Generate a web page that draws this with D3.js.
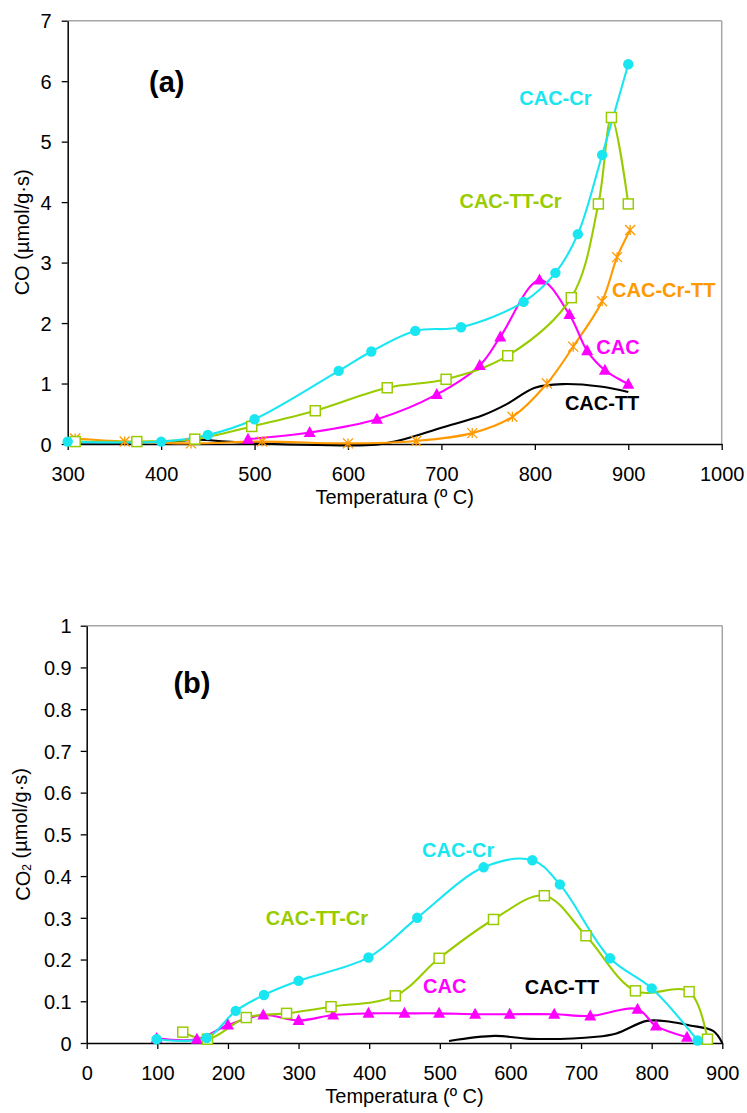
<!DOCTYPE html>
<html><head><meta charset="utf-8">
<script src="https://cdn.jsdelivr.net/npm/d3@7"></script>
<style>
body{margin:0;background:#fff}
text{font-family:"Liberation Sans",Arial,Helvetica,sans-serif}
</style>
</head><body>
<svg id="chart" width="747" height="1113"></svg>
<script>
// ---------- DATA ----------
// Panel (a): CO evolution
const xTicksA = [300,400,500,600,700,800,900,1000];
const yTicksA = [0,1,2,3,4,5,6,7];
const coCACCr   = [[300,0.04],[400,0.04],[450,0.15],[500,0.41],[590,1.21],[625,1.53],[672,1.87],[721,1.93],[788,2.35],[822,2.83],[846,3.47],[872,4.78],[900,6.28]];
const coCACTTCr = [[308,0.04],[374,0.04],[436,0.08],[497,0.29],[565,0.55],[642,0.93],[705,1.07],[771,1.46],[839,2.42],[868,3.97],[882,5.40],[900,3.97]];
const coCAC     = [[493,0.08],[559,0.19],[631,0.41],[695,0.82],[741,1.30],[763,1.77],[805,2.71],[837,2.14],[856,1.54],[875,1.22],[900,0.99]];
const coCACCrTT = [[308,0.09],[361,0.04],[432,0.01],[508,0.04],[600,0.01],[673,0.05],[733,0.18],[776,0.45],[813,1.00],[841,1.61],[872,2.36],[888,3.09],[902,3.54]];
const coCACTT   = [[300,0.03],[350,0.02],[400,0.03],[440,0.07],[470,0.04],[520,0.0],[580,-0.02],[630,-0.01],[660,0.08],[700,0.27],[745,0.48],[770,0.66],[800,0.93],[830,0.99],[870,0.95],[900,0.86]];
const labelsA = [["CAC-Cr",822,5.72],["CAC-TT-Cr",774,4.02],["CAC-Cr-TT",938,2.55],["CAC",889,1.61],["CAC-TT",872,0.67]];
const panelTagA = ["(a)",406,5.99];

// Panel (b): CO2 evolution
const xTicksB = [0,100,200,300,400,500,600,700,800,900];
const yTicksB = [0,0.1,0.2,0.3,0.4,0.5,0.6,0.7,0.8,0.9,1];
const co2CACCr   = [[99,0.009],[170,0.012],[211,0.077],[251,0.115],[300,0.149],[399,0.205],[468,0.300],[562,0.421],[631,0.438],[670,0.380],[741,0.203],[800,0.131],[865,0.006]];
const co2CACTTCr = [[136,0.026],[171,0.009],[226,0.061],[283,0.071],[346,0.087],[437,0.113],[499,0.203],[576,0.296],[648,0.353],[707,0.257],[777,0.125],[853,0.123],[879,0.009]];
const co2CAC     = [[99,0.011],[156,0.009],[200,0.043],[250,0.067],[300,0.054],[349,0.067],[399,0.071],[450,0.071],[499,0.071],[550,0.069],[599,0.069],[662,0.069],[713,0.065],[780,0.081],[806,0.041],[850,0.014]];
const co2CACTT   = [[513,0.005],[578,0.017],[628,0.010],[722,0.015],[750,0.023],[793,0.053],[826,0.051],[854,0.042],[887,0.029],[900,0.0]];
const labelsB = [["CAC-TT-Cr",326,0.299],["CAC-Cr",526,0.4625],["CAC",507,0.137],["CAC-TT",673,0.135]];
const panelTagB = ["(b)",149,0.862];

// ---------- STYLE ----------
const style = {
  "CAC-Cr":    {color:"#19e6f0", marker:"circle"},
  "CAC-TT-Cr": {color:"#99cc00", marker:"square"},
  "CAC":       {color:"#ff00ff", marker:"triangle"},
  "CAC-Cr-TT": {color:"#ff9900", marker:"star"},
  "CAC-TT":    {color:"#000000", marker:null}
};

const svg = d3.select("#chart");

function drawPanel(cfg){
  const g = svg.append("g");
  const x = d3.scaleLinear().domain(cfg.xDomain).range([cfg.left, cfg.right]);
  const y = d3.scaleLinear().domain(cfg.yDomain).range([cfg.bottom, cfg.top]);

  // frame: top/right gray
  g.append("line").attr("x1",cfg.left).attr("x2",cfg.right).attr("y1",cfg.top).attr("y2",cfg.top)
    .attr("stroke","#a6a6a6").attr("stroke-width",1.5);
  g.append("line").attr("x1",cfg.right).attr("x2",cfg.right).attr("y1",cfg.top).attr("y2",cfg.bottom)
    .attr("stroke","#a6a6a6").attr("stroke-width",1.5);

  const xa = g.append("g").attr("transform",`translate(0,${cfg.bottom})`)
    .call(d3.axisBottom(x).tickValues(cfg.xTicks).tickSize(6).tickSizeOuter(0).tickPadding(17).tickFormat(d3.format("d")));
  const ya = g.append("g").attr("transform",`translate(${cfg.left},0)`)
    .call(d3.axisLeft(y).tickValues(cfg.yTicks).tickSize(6).tickSizeOuter(0).tickPadding(cfg.yPad).tickFormat(cfg.yFmt));
  [xa,ya].forEach(a=>{
    a.selectAll("path.domain").attr("stroke","#000").attr("stroke-width",1.5);
    a.selectAll(".tick line").attr("stroke","#000").attr("stroke-width",1.3);
    a.selectAll(".tick text").attr("fill","#000").style("font-size","20px")
      .style("font-family",'"Liberation Sans",Arial,sans-serif');
  });
  ya.selectAll(".tick text").attr("dy","0.36em");

  const line = d3.line().x(d=>x(d[0])).y(d=>y(d[1])).curve(d3.curveCatmullRom.alpha(0.5));
  const lg = g.append("g");
  cfg.series.forEach(([name,data])=>{
    const st = style[name];
    lg.append("path").attr("d",line(data)).attr("fill","none")
      .attr("stroke",st.color).attr("stroke-width",2.1).attr("stroke-linejoin","round");
  });
  cfg.series.forEach(([name,data])=>{
    const st = style[name];
    if(!st.marker) return;
    const mg = lg.append("g");
    data.forEach(d=>{
      const cx = x(d[0]), cy = y(d[1]);
      if(st.marker==="circle"){
        mg.append("circle").attr("cx",cx).attr("cy",cy).attr("r",5.2).attr("fill",st.color);
      } else if(st.marker==="square"){
        mg.append("rect").attr("x",cx-5).attr("y",cy-5).attr("width",10).attr("height",10)
          .attr("fill","#fff").attr("stroke",st.color).attr("stroke-width",1.5);
      } else if(st.marker==="triangle"){
        mg.append("path").attr("transform",`translate(${cx},${cy})`)
          .attr("d","M0,-6.5L6,4.5L-6,4.5Z").attr("fill",st.color);
      } else if(st.marker==="star"){
        const r=5;
        mg.append("path").attr("transform",`translate(${cx},${cy})`)
          .attr("d",`M0,${-r}V${r}M${-r},${-r}L${r},${r}M${-r},${r}L${r},${-r}`)
          .attr("stroke",st.color).attr("stroke-width",1.3).attr("fill","none");
      }
    });
  });

  // series labels
  cfg.labels.forEach(([t,lx,ly])=>{
    g.append("text").attr("x",x(lx)).attr("y",y(ly)).attr("text-anchor","middle")
      .attr("dominant-baseline","central").attr("font-weight","bold").attr("font-size",20)
      .attr("fill",style[t].color).text(t);
  });
  g.append("text").attr("x",x(cfg.tag[1])).attr("y",y(cfg.tag[2])).attr("text-anchor","middle")
    .attr("dominant-baseline","central").attr("font-weight","bold").attr("font-size",29)
    .attr("fill","#000").text(cfg.tag[0]);

  // axis titles
  g.append("text").attr("x",(cfg.left+cfg.right)/2).attr("y",cfg.bottom+60)
    .attr("text-anchor","middle").attr("font-size",20).attr("fill","#000").text("Temperatura (º C)");
  const yt = g.append("text").attr("transform",`translate(${cfg.yTitleX},${(cfg.top+cfg.bottom)/2}) rotate(-90)`)
    .attr("text-anchor","middle").attr("dominant-baseline","central").attr("font-size",20).attr("fill","#000");
  cfg.yTitle(yt);
}

drawPanel({
  left:67.7, right:721.7, top:20.7, bottom:444,
  xDomain:[300,1000], yDomain:[0,7], xTicks:xTicksA, yTicks:yTicksA,
  yFmt:d3.format("d"), yPad:10, yTitleX:22,
  series:[["CAC-TT",coCACTT],["CAC-Cr-TT",coCACCrTT],["CAC",coCAC],["CAC-TT-Cr",coCACTTCr],["CAC-Cr",coCACCr]],
  labels:labelsA, tag:panelTagA,
  yTitle:t=>t.text("CO (µmol/g·s)")
});
drawPanel({
  left:86.7, right:722.3, top:625.7, bottom:1043,
  xDomain:[0,900], yDomain:[0,1], xTicks:xTicksB, yTicks:yTicksB,
  yFmt:d=>d===0||d===1?String(d):d3.format(".1f")(d), yPad:9, yTitleX:23,
  series:[["CAC-TT",co2CACTT],["CAC",co2CAC],["CAC-TT-Cr",co2CACTTCr],["CAC-Cr",co2CACCr]],
  labels:labelsB, tag:panelTagB,
  yTitle:t=>{ t.append("tspan").text("CO");
              t.append("tspan").attr("font-size",12).attr("dy","0.35em").text("2");
              t.append("tspan").attr("dy","-0.35em").text(" (µmol/g·s)"); }
});
</script>
</body></html>
